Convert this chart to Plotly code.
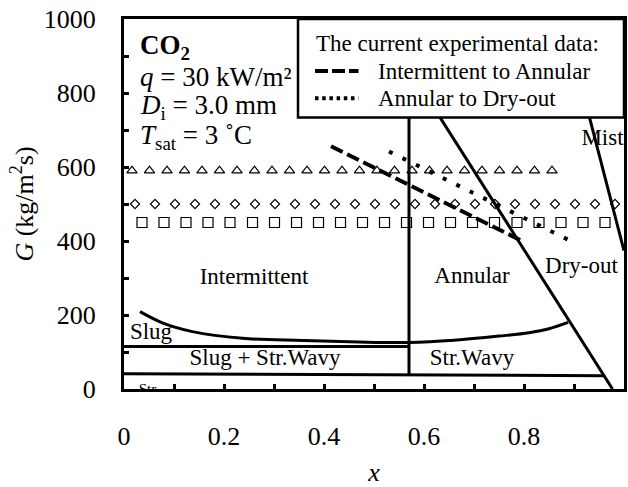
import plotly.graph_objects as go

# ---- flow-pattern map boundaries (vapour quality x, mass flux G) ----
int_ann_x = [0.57, 0.57]
int_ann_G = [38, 1000]
dryout_x = [0.507, 0.977]
dryout_G = [1000, 0]
mist_x = [0.880, 1.0]
mist_G = [1000, 374]
slug_x = [0.0, 0.57]
slug_G = [115, 115]
strat_x = [0.0, 0.96]
strat_G = [41, 36]
wavy_x = [0.032, 0.078, 0.137, 0.237, 0.357, 0.47, 0.57, 0.66, 0.75, 0.81, 0.85, 0.888]
wavy_G = [209, 178, 155, 137, 131, 127, 126, 132, 143, 152, 163, 180]

# ---- experimental transitions ----
exp_ia_x = [0.414, 0.795]
exp_ia_G = [656, 401]
exp_ad_x = [0.530, 0.895]
exp_ad_G = [642, 399]

# ---- test conditions ----
tri_x = [0.016, 0.051, 0.086, 0.121, 0.156, 0.191, 0.226, 0.261, 0.296, 0.331,
         0.366, 0.401, 0.436, 0.471, 0.506, 0.541, 0.576, 0.611, 0.646, 0.681,
         0.716, 0.751, 0.786, 0.821, 0.856]
tri_G = [590] * len(tri_x)
dia_x = [0.022, 0.062, 0.102, 0.142, 0.182, 0.222, 0.262, 0.302, 0.342, 0.382,
         0.422, 0.462, 0.502, 0.542, 0.582, 0.622, 0.662, 0.702, 0.742, 0.782,
         0.822, 0.862, 0.902, 0.942, 0.982]
dia_G = [500] * len(dia_x)
sq_x = [0.036, 0.080, 0.124, 0.168, 0.212, 0.257, 0.301, 0.345, 0.389, 0.433,
        0.477, 0.521, 0.565, 0.609, 0.653, 0.697, 0.741, 0.786, 0.830, 0.874,
        0.918, 0.962]
sq_G = [450] * len(sq_x)

# ---- region names ----
region_text = ["Intermittent", "Annular", "Dry-out", "Mist", "Slug",
               "Slug + Str.Wavy", "Str.Wavy"]
region_x = [0.26, 0.696, 0.915, 0.957, 0.054, 0.282, 0.696]
region_G = [300, 302, 329, 674, 150, 80, 80]
strat_text = ["Str."]
strat_lx = [0.05]
strat_lG = [-4]

SERIF = "Liberation Serif"
BLACK = "black"

fig = go.Figure()

# region labels first so the boundaries are drawn over them
fig.add_trace(go.Scatter(x=region_x, y=region_G, text=region_text, mode="text",
                         textfont=dict(family=SERIF, size=23, color=BLACK),
                         cliponaxis=True, showlegend=False, hoverinfo="skip"))
fig.add_trace(go.Scatter(x=strat_lx, y=strat_lG, text=strat_text, mode="text",
                         textfont=dict(family=SERIF, size=15, color=BLACK),
                         cliponaxis=True, showlegend=False, hoverinfo="skip"))

boundary = dict(color=BLACK, width=3)
for bx, bG, shape in [(int_ann_x, int_ann_G, "linear"), (dryout_x, dryout_G, "linear"),
                      (mist_x, mist_G, "linear"), (slug_x, slug_G, "linear"),
                      (strat_x, strat_G, "linear"), (wavy_x, wavy_G, "spline")]:
    fig.add_trace(go.Scatter(x=bx, y=bG, mode="lines",
                             line=dict(boundary, shape=shape),
                             showlegend=False, hoverinfo="skip"))

marker_line = dict(color=BLACK, width=1.2)
fig.add_trace(go.Scatter(x=tri_x, y=tri_G, mode="markers", showlegend=False,
                         marker=dict(symbol="triangle-up-open", size=9, line=marker_line,
                                     color=BLACK)))
fig.add_trace(go.Scatter(x=dia_x, y=dia_G, mode="markers", showlegend=False,
                         marker=dict(symbol="diamond-open", size=7, line=marker_line,
                                     color=BLACK)))
fig.add_trace(go.Scatter(x=sq_x, y=sq_G, mode="markers", showlegend=False,
                         marker=dict(symbol="square-open", size=10, line=marker_line,
                                     color=BLACK)))

fig.add_trace(go.Scatter(x=exp_ia_x, y=exp_ia_G, mode="lines", showlegend=False,
                         line=dict(color=BLACK, width=4, dash="13px,5px")))
fig.add_trace(go.Scatter(x=exp_ad_x, y=exp_ad_G, mode="lines", showlegend=False,
                         line=dict(color=BLACK, width=4, dash="4px,11px")))

# key box in the upper right corner
fig.add_shape(type="rect", xref="paper", yref="paper", x0=0.348, x1=1.0, y0=0.7335, y1=1.0,
              line=dict(color=BLACK, width=2.5), fillcolor="white", layer="above")
fig.add_shape(type="line", xref="paper", yref="paper", x0=0.382, x1=0.469, y0=0.8595, y1=0.8595,
              line=dict(color=BLACK, width=4, dash="13px,4px"), layer="above")
fig.add_shape(type="line", xref="paper", yref="paper", x0=0.382, x1=0.469, y0=0.786, y1=0.786,
              line=dict(color=BLACK, width=4, dash="3.5px,3.7px"), layer="above")

annotations = [
    dict(text="The current experimental data:", x=0.379, y=0.935, xanchor="left", yanchor="middle", size=23),
    dict(text="Intermittent to Annular", x=0.503, y=0.859, xanchor="left", yanchor="middle", size=23),
    dict(text="Annular to Dry-out", x=0.503, y=0.786, xanchor="left", yanchor="middle", size=23),
    dict(text="<b>CO<sub>2</sub></b>", x=0.027, y=0.923, xanchor="left", yanchor="middle", size=27),
    dict(text="<i>q</i> = 30 kW/m²", x=0.027, y=0.844, xanchor="left", yanchor="middle", size=27),
    dict(text="<i>D</i><sub>i</sub> = 3.0 mm", x=0.027, y=0.762, xanchor="left", yanchor="middle", size=27),
    dict(text="<i>T</i><sub>sat</sub> = 3 ˚C", x=0.027, y=0.681, xanchor="left", yanchor="middle", size=27),
]
for a in annotations:
    fig.add_annotation(text=a["text"], x=a["x"], y=a["y"], xref="paper", yref="paper",
                       xanchor=a["xanchor"], yanchor=a["yanchor"], showarrow=False,
                       font=dict(family=SERIF, size=a["size"], color=BLACK))

axis_common = dict(showline=True, linewidth=3, linecolor=BLACK, mirror=True,
                   ticks="inside", ticklen=5, tickwidth=2.5, tickcolor=BLACK,
                   showgrid=False, zeroline=False,
                   tickfont=dict(family=SERIF, size=26, color=BLACK))

fig.update_xaxes(range=[0, 1], dtick=0.2, tickformat="~g",
                 minor=dict(dtick=0.1, ticks="inside", ticklen=5, tickwidth=2.5, tickcolor=BLACK),
                 ticklabelstandoff=22,
                 title=dict(text="<i>x</i>", font=dict(family=SERIF, size=26, color=BLACK), standoff=14),
                 **axis_common)
fig.update_yaxes(range=[0, 1000], dtick=200,
                 minor=dict(dtick=100, ticks="inside", ticklen=5, tickwidth=2.5, tickcolor=BLACK),
                 ticklabelstandoff=20,
                 title=dict(text="<i>G</i> (kg/m<sup>2</sup>s)",
                            font=dict(family=SERIF, size=26, color=BLACK), standoff=3),
                 **axis_common)

fig.update_layout(width=628, height=487, margin=dict(l=124, r=1, t=19, b=98),
                  paper_bgcolor="white", plot_bgcolor="white",
                  font=dict(family=SERIF, color=BLACK))

fig.write_html("out.html")
